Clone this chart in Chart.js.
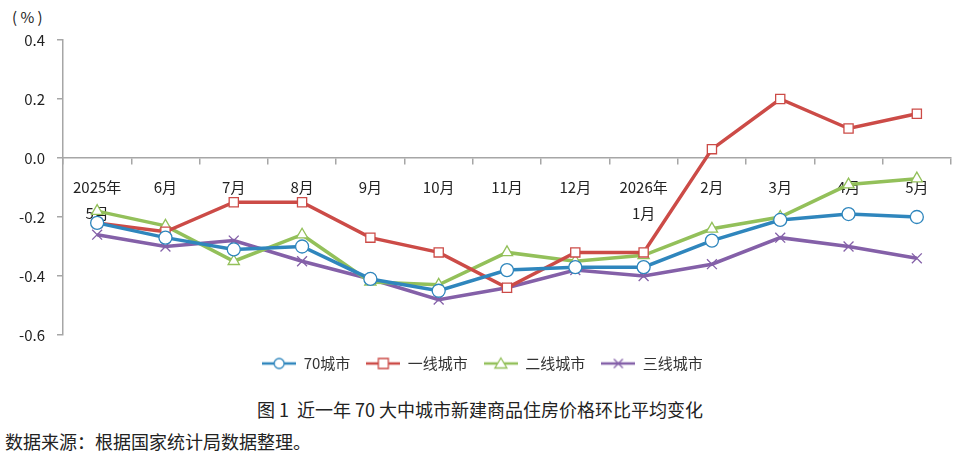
<!DOCTYPE html>
<html>
<head>
<meta charset="utf-8">
<title>70城新房价格环比</title>
<script src="https://cdn.jsdelivr.net/npm/chart.js"></script>
<style>
  html, body { margin: 0; padding: 0; background: #fff; }
  body {
    width: 960px; height: 457px; position: relative; overflow: hidden;
    font-family: "Noto Sans CJK SC", "Noto Sans", sans-serif; color: #222;
  }
  .wrap { position: absolute; left: 0; top: 0; width: 960px; height: 385px; }
  .unit { position: absolute; left: 12px; top: 6px; font-size: 15px; }
  .caption { position: absolute; top: 396px; left: 0; width: 960px; text-align: center; font-size: 18px; }
  .source { position: absolute; left: 5px; top: 428px; font-size: 18px; }
</style>
<script>
  // values, % month on month
  var months = [['2025年', '5月'], '6月', '7月', '8月', '9月', '10月', '11月', '12月', ['2026年', '1月'], '2月', '3月', '4月', '5月'];
  var city70 = [-0.22, -0.27, -0.31, -0.30, -0.41, -0.45, -0.38, -0.37, -0.37, -0.28, -0.21, -0.19, -0.20];
  var tier1  = [-0.22, -0.25, -0.15, -0.15, -0.27, -0.32, -0.44, -0.32, -0.32, 0.03, 0.20, 0.10, 0.15];
  var tier2  = [-0.18, -0.23, -0.35, -0.26, -0.42, -0.43, -0.32, -0.35, -0.33, -0.24, -0.20, -0.09, -0.07];
  var tier3  = [-0.26, -0.30, -0.28, -0.35, -0.41, -0.48, -0.44, -0.38, -0.40, -0.36, -0.27, -0.30, -0.34];
  var yTicks = [-0.6, -0.4, -0.2, 0.0, 0.2, 0.4];

  var font = '"Noto Sans CJK SC", "Noto Sans", sans-serif';

  // little line+marker picture used as legend symbol
  function legendIcon(color, style) {
    var c = document.createElement('canvas');
    c.width = 34; c.height = 16;
    var g = c.getContext('2d');
    g.strokeStyle = color;
    g.lineWidth = 2.5;
    g.beginPath(); g.moveTo(0, 8); g.lineTo(34, 8); g.stroke();
    g.lineWidth = 1.3;
    g.fillStyle = '#fff';
    g.beginPath();
    if (style === 'circle') {
      g.arc(17, 8, 5, 0, Math.PI * 2);
      g.fill(); g.stroke();
    } else if (style === 'rect') {
      g.rect(12, 3, 10, 10);
      g.fill(); g.stroke();
    } else if (style === 'triangle') {
      g.moveTo(17, 2.5); g.lineTo(23, 12.5); g.lineTo(11, 12.5); g.closePath();
      g.fill(); g.stroke();
    } else {
      g.moveTo(12.5, 3.5); g.lineTo(21.5, 12.5);
      g.moveTo(21.5, 3.5); g.lineTo(12.5, 12.5);
      g.stroke();
    }
    return c;
  }

  function series(label, data, color, style) {
    return {
      label: label,
      data: data,
      borderColor: color,
      backgroundColor: color,
      borderWidth: 3.5,
      pointStyle: style,
      pointRadius: style === 'crossRot' ? 7 : 6.5,
      pointBorderWidth: 1.3,
      pointBackgroundColor: '#fff',
      pointBorderColor: color,
      tension: 0,
      icon: legendIcon(color, style)
    };
  }

  window.addEventListener('load', function () {
    var datasets = [
      series('70城市', city70, '#2f86bd', 'circle'),
      series('一线城市', tier1, '#cc4b47', 'rect'),
      series('二线城市', tier2, '#93c05a', 'triangle'),
      series('三线城市', tier3, '#8460a8', 'crossRot')
    ];

    new Chart(document.getElementById('c'), {
      type: 'line',
      data: { labels: months, datasets: datasets },
      options: {
        responsive: false,
        animation: false,
        layout: { padding: { left: 14, right: 9, top: 40, bottom: 4 } },
        plugins: {
          tooltip: { enabled: false },
          legend: {
            position: 'bottom',
            // empty title only adds a little room above the legend row
            title: { display: true, text: '', font: { size: 5, lineHeight: 1 }, padding: 0 },
            labels: {
              usePointStyle: true,
              pointStyleWidth: 34,
              padding: 16,
              color: '#333',
              font: { family: font, size: 15 },
              generateLabels: function (chart) {
                return chart.data.datasets.map(function (ds, i) {
                  return {
                    text: ds.label,
                    pointStyle: ds.icon,
                    fillStyle: ds.borderColor,
                    strokeStyle: ds.borderColor,
                    lineWidth: 0,
                    fontColor: '#333',
                    hidden: false,
                    datasetIndex: i
                  };
                });
              }
            }
          }
        },
        scales: {
          x: {
            type: 'category',
            position: { y: 0 },
            offset: true,
            z: 1,
            grid: { drawOnChartArea: false, offset: true, tickLength: 6, color: '#a6a6a6', lineWidth: 1.5 },
            border: { color: '#a6a6a6', width: 1.5 },
            ticks: {
              color: '#222',
              padding: 10,
              maxRotation: 0,
              autoSkip: false,
              font: { family: font, size: 15, lineHeight: 1.75 }
            }
          },
          y: {
            min: -0.6,
            max: 0.4,
            afterFit: function (s) { s.width = 49; },
            afterBuildTicks: function (s) { s.ticks = yTicks.map(function (v) { return { value: v }; }); },
            grid: { drawOnChartArea: false, tickLength: 6, color: '#a6a6a6', lineWidth: 1.5 },
            border: { color: '#a6a6a6', width: 1.5 },
            ticks: {
              color: '#222',
              padding: 12,
              font: { family: font, size: 15 },
              callback: function (v) { return Math.abs(v) < 1e-9 ? '0.0' : v.toFixed(1); }
            }
          }
        }
      }
    });
  });
</script>
</head>
<body>
  <div class="unit">( % )</div>
  <div class="wrap"><canvas id="c" width="960" height="385"></canvas></div>
  <div class="caption">图 1&nbsp; 近一年 70 大中城市新建商品住房价格环比平均变化</div>
  <div class="source">数据来源：根据国家统计局数据整理。</div>
</body>
</html>
